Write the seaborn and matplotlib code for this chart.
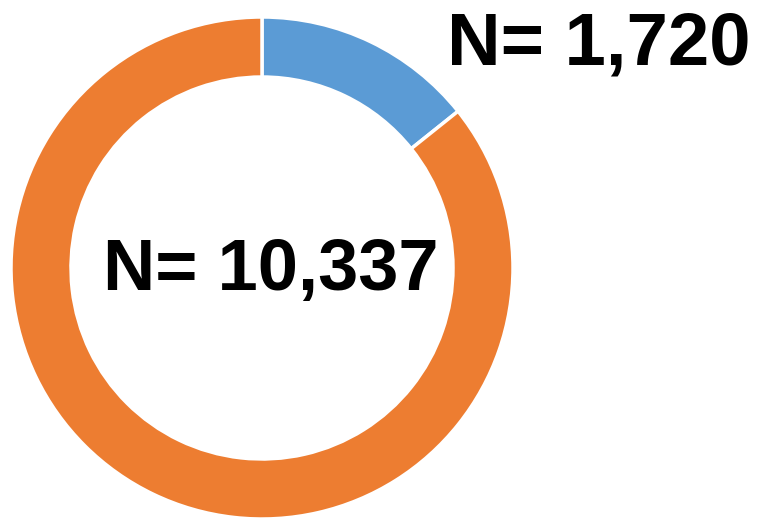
import matplotlib
matplotlib.use("Agg")
import matplotlib.pyplot as plt
import seaborn as sns

# Data
labels = ["Group A", "Group B"]
values = [1720, 10337]
colors = ["#5B9BD5", "#ED7D31"]
label_top = "N= 1,720"
label_center = "N= 10,337"

sns.set_theme(style="white")
plt.rcParams["font.family"] = ["Liberation Sans", "DejaVu Sans"]

W, H = 758, 520
fig = plt.figure(figsize=(W / 100, H / 100), dpi=100)
ax = fig.add_axes([0, 0, 1, 1])

cx, cy, R = 262, H - 268, 251
ax.pie(values, colors=colors, startangle=90, counterclock=False,
       radius=R, center=(cx, cy),
       wedgeprops=dict(width=60, edgecolor="white", linewidth=2.5))
ax.set_xlim(0, W)
ax.set_ylim(0, H)
ax.set_aspect("equal")
ax.axis("off")

ax.text(447, H - 64, label_top, ha="left", va="baseline",
        fontsize=53.5, fontweight="bold", color="black")
ax.text(103, H - 290, label_center, ha="left", va="baseline",
        fontsize=52, fontweight="bold", color="black")

fig.savefig("out.png", dpi=100, facecolor="white")
